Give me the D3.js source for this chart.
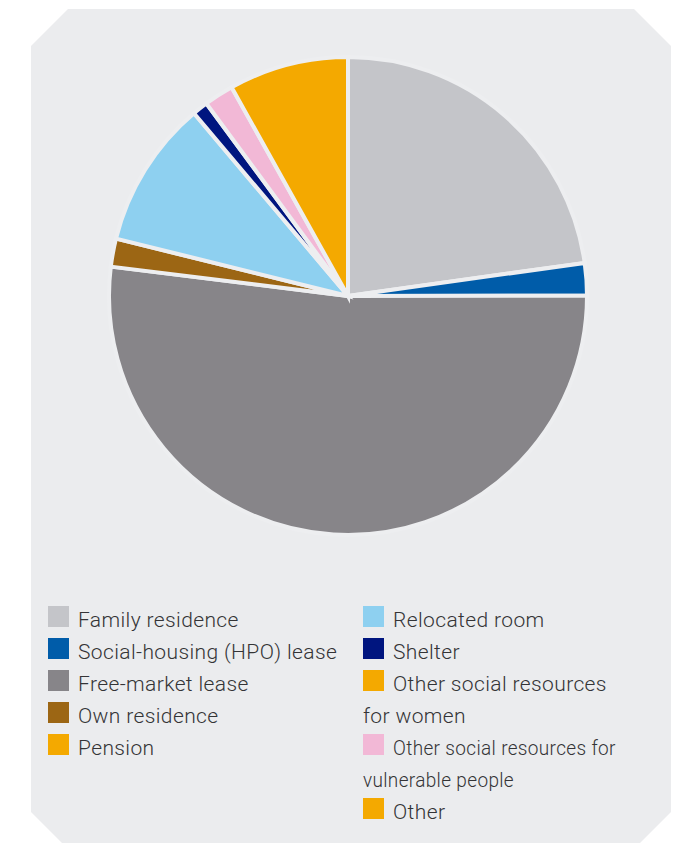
<!DOCTYPE html>
<html>
<head>
<meta charset="utf-8">
<script src="https://cdn.jsdelivr.net/npm/d3@7"></script>
<style>
  html, body { margin: 0; padding: 0; background: #ffffff; }
  svg { display: block; }
  text { font-family: Roboto, "Open Sans", "Liberation Sans", sans-serif; font-weight: 300; }
</style>
</head>
<body>
<svg id="chart" width="687" height="843"></svg>
<script>
// Data (percent shares)
const categories = [
  "Family residence",
  "Social-housing (HPO) lease",
  "Free-market lease",
  "Own residence",
  "Pension",
  "Relocated room",
  "Shelter",
  "Other social resources for women",
  "Other social resources for vulnerable people",
  "Other"
];
const values = [22.8, 2.2, 52.0, 1.9, 0, 10.0, 1.05, 0, 2.0, 8.1];
const colors = ["#c4c5c9", "#005ca9", "#878589", "#9c6614", "#f4a900",
                "#8ed0f0", "#00157f", "#f4a900", "#f2b8d6", "#f4a900"];
// Legend layout: text lines per column (squeeze = horizontal compression of the label)
const legendLeft = [
  { key: 0, lines: ["Family residence"], squeeze: 1 },
  { key: 1, lines: ["Social-housing (HPO) lease"], squeeze: 1 },
  { key: 2, lines: ["Free-market lease"], squeeze: 1 },
  { key: 3, lines: ["Own residence"], squeeze: 1 },
  { key: 4, lines: ["Pension"], squeeze: 1 }
];
const legendRight = [
  { key: 5, lines: ["Relocated room"], squeeze: 1 },
  { key: 6, lines: ["Shelter"], squeeze: 1 },
  { key: 7, lines: ["Other social resources", "for women"], squeeze: 1 },
  { key: 8, lines: ["Other social resources for", "vulnerable people"], squeeze: 0.905 },
  { key: 9, lines: ["Other"], squeeze: 1 }
];

const svg = d3.select("#chart");

// Background panel with chamfered corners
const L = 31, T = 9, R = 671, B = 843;
const ct = 37, cb = 31;
svg.append("path")
  .attr("d", d3.line()([
    [L + ct, T], [R - ct, T], [R, T + ct], [R, B - cb], [R - cb, B],
    [L + cb, B], [L, B - cb], [L, T + ct]
  ]) + "Z")
  .attr("fill", "#ebecee");

// Pie
const cx = 348, cy = 296, radius = 239;
const pie = d3.pie().sort(null).value(d => d)(values);
const arc = d3.arc().innerRadius(0).outerRadius(radius);
const color = d3.scaleOrdinal().domain(d3.range(categories.length)).range(colors);

svg.append("g")
  .attr("transform", `translate(${cx},${cy})`)
  .selectAll("path")
  .data(pie.filter(d => d.data > 0))
  .join("path")
  .attr("d", arc)
  .attr("fill", d => color(d.index))
  .attr("stroke", "#edeef0")
  .attr("stroke-width", 4)
  .attr("stroke-linejoin", "miter");

// Legend
const rowH = 32, sw = 21, top0 = 606;
function drawLegend(items, swX, textX, wrapX) {
  const g = svg.append("g");
  let row = 0;
  items.forEach(it => {
    const y = top0 + row * rowH;
    g.append("rect")
      .attr("x", swX).attr("y", y)
      .attr("width", sw).attr("height", sw)
      .attr("fill", color(it.key));
    it.lines.forEach((ln, i) => {
      const x = i === 0 ? textX : wrapX;
      const ty = y + (i * rowH) + 21;
      g.append("text")
        .attr("transform", `translate(${x},${ty}) scale(${it.squeeze},1)`)
        .attr("font-size", 21)
        .attr("letter-spacing", 0.38)
        .attr("fill", "#343436")
        .text(ln);
    });
    row += it.lines.length;
  });
}
drawLegend(legendLeft, 48, 78, 48);
drawLegend(legendRight, 363, 393, 363);
</script>
</body>
</html>
